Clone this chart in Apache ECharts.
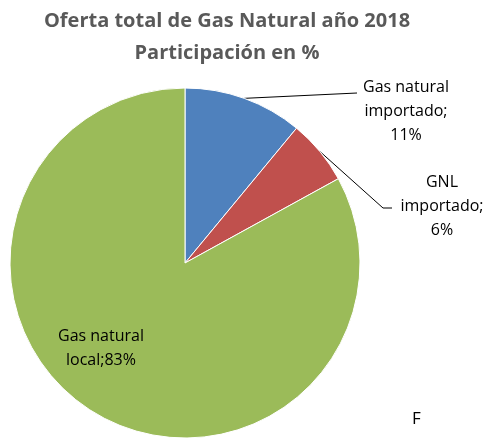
<!DOCTYPE html>
<html>
<head>
<meta charset="utf-8">
<script src="https://cdn.jsdelivr.net/npm/echarts@6/dist/echarts.min.js"></script>
<style>
  html, body { margin: 0; padding: 0; background: #fff; }
  #chart { width: 491px; height: 438px; }
</style>
</head>
<body>
<div id="chart"></div>
<script>
  // datos
  const categories = ['Gas natural importado', 'GNL importado', 'Gas natural local'];
  const shares = [11, 6, 83];
  const labelTexts = ['Gas natural\nimportado;\n11%', 'GNL\nimportado;\n6%', 'Gas natural\nlocal;83%'];
  const colors = ['#4F81BD', '#C0504D', '#9BBB59'];

  // donde van las etiquetas (centro del bloque de texto) y el codo de la guía
  const labelPos = [[406, 111], [442, 206], [101, 348]];
  const lineEnds = [[[357, 93], [357, 93]], [[383, 208], [392, 208]], null];

  const chart = echarts.init(document.getElementById('chart'));

  chart.setOption({
    animation: false,
    title: {
      text: 'Oferta total de Gas Natural año 2018\nParticipación en %',
      left: 222,
      top: 0,
      textAlign: 'center',
      textStyle: {
        fontFamily: 'Open Sans',
        fontSize: 20,
        fontWeight: 'bold',
        color: '#595959',
        lineHeight: 32,
      },
    },
    graphic: [
      {
        type: 'text',
        left: 412,
        top: 411,
        style: { text: 'F', fontFamily: 'Open Sans', fontSize: 17, fill: '#000' },
      },
    ],
    series: [
      {
        type: 'pie',
        center: [185, 263],
        radius: 175,
        startAngle: 90,
        clockwise: true,
        data: categories.map((name, i) => ({
          name,
          value: shares[i],
          itemStyle: { color: colors[i] },
          label: i === 2 ? { position: 'inside' } : {},
          labelLine: { show: i !== 2 },
        })),
        itemStyle: { borderColor: '#fff', borderWidth: 1 },
        label: {
          show: true,
          formatter: (p) => labelTexts[p.dataIndex],
          fontFamily: 'Open Sans',
          fontSize: 16,
          lineHeight: 24,
          color: '#000',
          align: 'center',
        },
        labelLine: {
          show: true,
          length: 10,
          length2: 10,
          lineStyle: { color: '#000', width: 1 },
        },
        labelLayout: (params) => {
          const i = params.dataIndex;
          const out = {
            x: labelPos[i][0],
            y: labelPos[i][1],
            align: 'center',
            verticalAlign: 'middle',
          };
          if (lineEnds[i] && params.labelLinePoints) {
            out.labelLinePoints = [params.labelLinePoints[0]].concat(lineEnds[i]);
          }
          return out;
        },
      },
    ],
  });
</script>
</body>
</html>
